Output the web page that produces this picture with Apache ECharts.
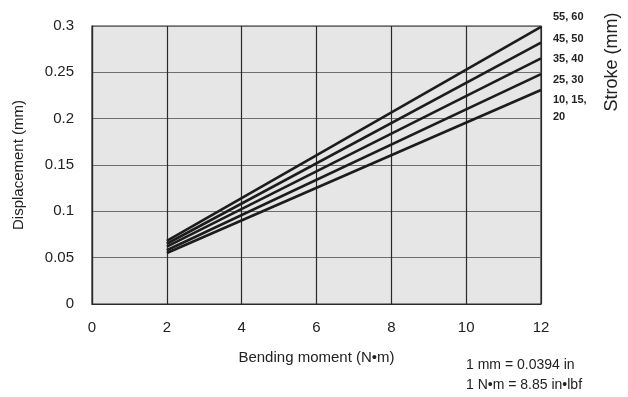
<!DOCTYPE html>
<html>
<head>
<meta charset="utf-8">
<script src="https://cdn.jsdelivr.net/npm/echarts@6/dist/echarts.min.js"></script>
<style>
html, body { margin: 0; padding: 0; background: #fff; }
#chart { width: 628px; height: 397px; }
</style>
</head>
<body>
<div id="chart"></div>
<script>
"use strict";

// Stroke groups, top line first
var strokes = ['55, 60', '45, 50', '35, 40', '25, 30', '10, 15, 20'];
var moment = [2, 12];
var disp_55_60 = [0.068, 0.299];
var disp_45_50 = [0.065, 0.282];
var disp_35_40 = [0.062, 0.265];
var disp_25_30 = [0.058, 0.248];
var disp_10_20 = [0.055, 0.231];
var allDisp = [disp_55_60, disp_45_50, disp_35_40, disp_25_30, disp_10_20];

var FONT = '"Liberation Sans", Arial, sans-serif';

var chart = echarts.init(document.getElementById('chart'));

var series = [];
for (var i = 0; i < strokes.length; i++) {
	var pts = [];
	for (var j = 0; j < moment.length; j++) {
		pts.push([moment[j], allDisp[i][j]]);
	}
	series.push({
		name: strokes[i],
		type: 'line',
		data: pts,
		symbol: 'none',
		animation: false,
		lineStyle: { color: '#1c1c1c', width: 2.6 }
	});
}

// stroke labels on the right side (not at line ends in the original)
var labelTops = [11, 33, 53, 74, 94, 111];
var labelTexts = ['55, 60', '45, 50', '35, 40', '25, 30', '10, 15,', '20'];
var graphics = [];
for (var k = 0; k < labelTexts.length; k++) {
	graphics.push({ type: 'text', left: 553, top: labelTops[k],
		style: { text: labelTexts[k], font: 'bold 11px ' + FONT, fill: '#222' } });
}
graphics.push({ type: 'text', x: 612, y: 62, rotation: Math.PI / 2,
	style: { text: 'Stroke (mm)', font: '18px ' + FONT, fill: '#222', textAlign: 'center', textVerticalAlign: 'middle' } });
graphics.push({ type: 'text', left: 466, top: 358, style: { text: '1 mm = 0.0394 in', font: '14px ' + FONT, fill: '#222' } });
graphics.push({ type: 'text', left: 466, top: 378, style: { text: '1 N•m = 8.85 in•lbf', font: '14px ' + FONT, fill: '#222' } });

var option = {
	animation: false,
	grid: {
		left: 92, top: 26, width: 449, height: 278,
		show: true,
		backgroundColor: '#e6e6e7',
		borderColor: '#2a2a2a',
		borderWidth: 1.2
	},
	xAxis: {
		type: 'value',
		min: 0, max: 12, interval: 2,
		name: 'Bending moment (N•m)',
		nameLocation: 'middle',
		nameGap: 46,
		nameTextStyle: { color: '#222', fontSize: 15, fontFamily: FONT },
		axisLine: { show: true, lineStyle: { color: '#2a2a2a', width: 1.2 } },
		axisTick: { show: false },
		axisLabel: { color: '#222', fontSize: 15, fontFamily: FONT, margin: 16 },
		splitLine: { show: true, lineStyle: { color: '#2a2a2a', width: 1.2 } }
	},
	yAxis: {
		type: 'value',
		min: 0, max: 0.3, interval: 0.05,
		name: 'Displacement (mm)',
		nameLocation: 'middle',
		nameGap: 66,
		nameTextStyle: { color: '#222', fontSize: 15, fontFamily: FONT },
		axisLine: { show: true, lineStyle: { color: '#2a2a2a', width: 1.2 } },
		axisTick: { show: false },
		axisLabel: { color: '#222', fontSize: 15, fontFamily: FONT, margin: 18 },
		splitLine: { show: true, lineStyle: { color: '#6e6e6e', width: 1.2 } }
	},
	graphic: graphics,
	series: series
};

chart.setOption(option);
</script>
</body>
</html>
